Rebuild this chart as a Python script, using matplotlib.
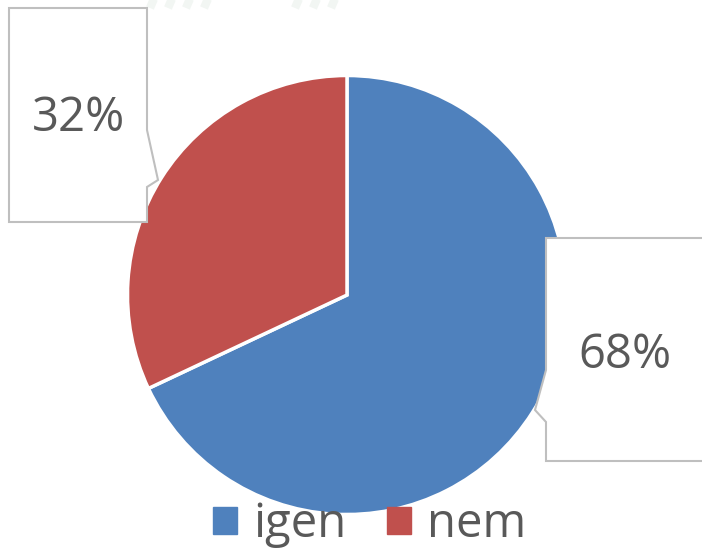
import matplotlib
matplotlib.use("Agg")
import matplotlib.pyplot as plt
from matplotlib.patches import Polygon, Patch

# data
labels = ["igen", "nem"]
values = [68, 32]
colors = ["#4F81BD", "#C0504D"]

TEXT_COLOR = "#595959"
BOX_EDGE = "#BFBFBF"

plt.rcParams["font.family"] = ["Open Sans", "DejaVu Sans"]

fig = plt.figure(figsize=(7.02, 5.54), dpi=100)
ax = fig.add_axes([0, 0, 1, 1])

# faint watermark strokes at the top
for x0 in [150, 168, 186, 204, 295, 313, 331]:
    ax.plot([x0, x0 + 12], [546, 574], color="#F2F6F3", lw=6, zorder=0,
            solid_capstyle="butt")

wedges, _ = ax.pie(values, colors=colors, startangle=90, counterclock=False,
                   center=(347, 259), radius=219.5, frame=True,
                   wedgeprops=dict(edgecolor="white", linewidth=2.5))
ax.set_xlim(0, 702)
ax.set_ylim(0, 554)
ax.set_aspect("equal")
ax.axis("off")

# callout boxes (in pixel coords, y from bottom)
def H(y):
    return 554 - y

box_nem = [(9, H(8)), (147, H(8)), (147, H(130)), (158, H(180)), (147, H(187)),
           (147, H(222)), (9, H(222))]
box_igen = [(546, H(238)), (710, H(238)), (710, H(461)), (546, H(461)),
            (546, H(422)), (535, H(410)), (546, H(370))]
for pts in (box_nem, box_igen):
    ax.add_patch(Polygon(pts, closed=True, facecolor="white", edgecolor=BOX_EDGE,
                         linewidth=1.5, zorder=5))

ax.text(78, H(118), f"{values[1]}%", ha="center", va="center", fontsize=34,
        color=TEXT_COLOR, zorder=6)
ax.text(625, H(355), f"{values[0]}%", ha="center", va="center", fontsize=34,
        color=TEXT_COLOR, zorder=6)

handles = [Patch(facecolor=c, edgecolor=c) for c in colors]
leg = fig.legend(handles, labels, loc="lower center", bbox_to_anchor=(0.527, -0.066),
                 ncol=2, frameon=False, fontsize=34, handlelength=0.5,
                 handleheight=0.5, handletextpad=0.35, columnspacing=0.85)
for t in leg.get_texts():
    t.set_color(TEXT_COLOR)

fig.savefig("out.png", dpi=100, facecolor="white")
